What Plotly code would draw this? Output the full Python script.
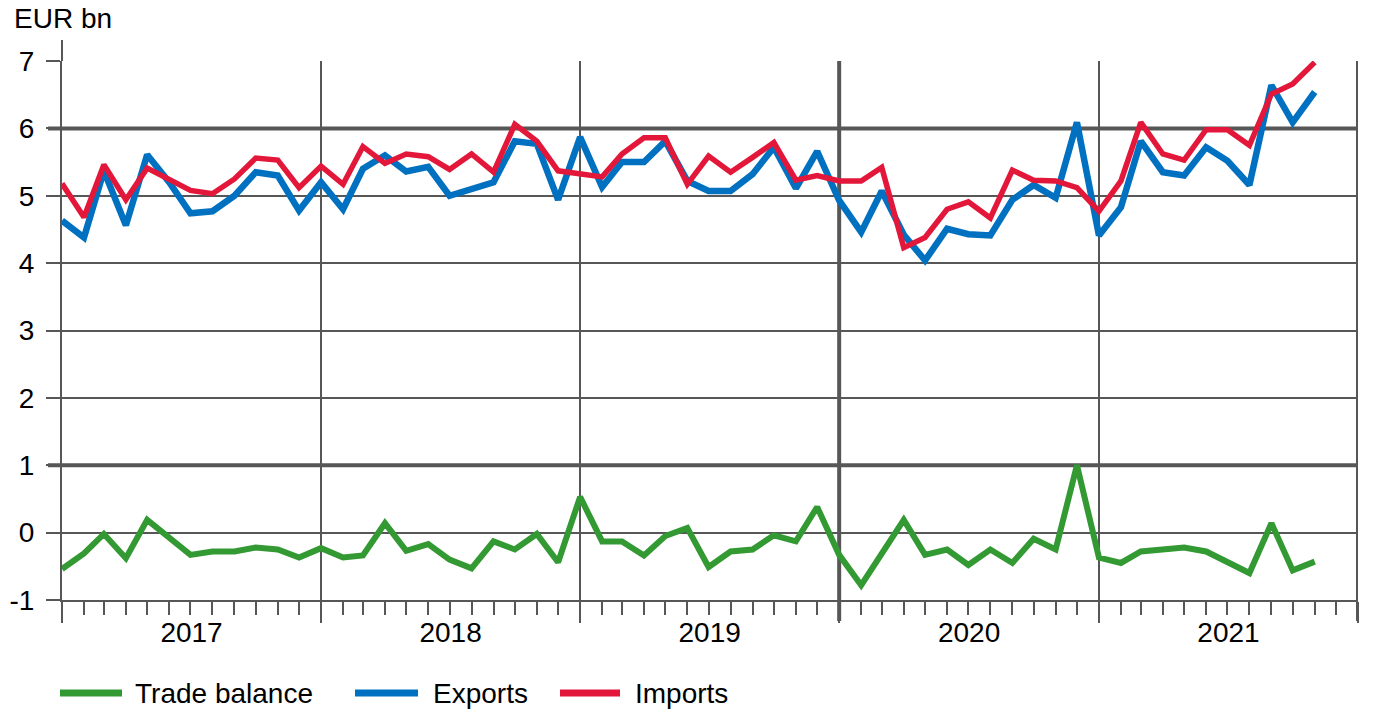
import pandas as pd
import plotly.graph_objects as go

months = pd.date_range("2017-01-01", periods=59, freq="MS")

exports = [4.63, 4.38, 5.37, 4.56, 5.61, 5.20, 4.74, 4.77, 5.00, 5.35, 5.30, 4.78,
           5.20, 4.80, 5.40, 5.60, 5.36, 5.43, 5.00, 5.11, 5.20, 5.81, 5.77, 4.94,
           5.87, 5.13, 5.50, 5.50, 5.81, 5.22, 5.07, 5.07, 5.32, 5.72, 5.11, 5.66,
           4.93, 4.46, 5.07, 4.42, 4.04, 4.51, 4.43, 4.41, 4.94, 5.16, 4.97, 6.09,
           4.41, 4.83, 5.81, 5.35, 5.30, 5.72, 5.52, 5.16, 6.64, 6.09, 6.54]

imports = [5.18, 4.68, 5.46, 4.94, 5.41, 5.25, 5.08, 5.03, 5.25, 5.56, 5.53, 5.12,
           5.44, 5.17, 5.73, 5.48, 5.62, 5.58, 5.39, 5.62, 5.35, 6.06, 5.81, 5.37,
           5.32, 5.28, 5.62, 5.86, 5.86, 5.17, 5.59, 5.35, 5.57, 5.79, 5.23, 5.30,
           5.22, 5.22, 5.42, 4.23, 4.38, 4.80, 4.91, 4.67, 5.38, 5.23, 5.22, 5.12,
           4.77, 5.22, 6.09, 5.62, 5.53, 5.98, 5.98, 5.75, 6.51, 6.66, 6.98]

balance = [-0.54, -0.31, -0.02, -0.38, 0.19, -0.08, -0.33, -0.28, -0.28, -0.22, -0.25, -0.37,
           -0.23, -0.37, -0.34, 0.14, -0.27, -0.17, -0.40, -0.53, -0.13, -0.25, -0.02, -0.44,
           0.53, -0.13, -0.13, -0.34, -0.05, 0.07, -0.51, -0.28, -0.25, -0.04, -0.13, 0.38,
           -0.33, -0.78, -0.30, 0.19, -0.33, -0.25, -0.48, -0.25, -0.45, -0.09, -0.25, 1.00,
           -0.37, -0.45, -0.28, -0.25, -0.22, -0.28, -0.44, -0.60, 0.14, -0.56, -0.43]

y_tick_vals = [-1, 0, 1, 2, 3, 4, 5, 6, 7]
y_tick_text = ["-1", "0", "1", "2", "3", "4", "5", "6", "7"]

series_names = ["Trade balance", "Exports", "Imports"]
colors = ["#339933", "#0070C0", "#E2173A"]
widths = [6, 6.5, 5.5]

FONT = "Liberation Sans, Arial, sans-serif"
GRID = "#575757"

fig = go.Figure()
for name, vals, c, w in zip(series_names, [balance, exports, imports], colors, widths):
    fig.add_trace(go.Scatter(x=months, y=vals, mode="lines", name=name,
                             line=dict(color=c, width=w), showlegend=False, hoverinfo="skip"))

fig.update_layout(
    width=1378, height=711,
    margin=dict(l=62, r=20, t=61, b=111, autoexpand=False),
    paper_bgcolor="white", plot_bgcolor="white",
    font=dict(family=FONT, size=28, color="black"),
)

fig.update_xaxes(
    range=["2017-01-01", "2022-01-01"], automargin=False,
    tick0="2017-01-01", dtick="M12", tickformat="%Y", ticklabelmode="period",
    showgrid=True, gridcolor=GRID, gridwidth=2,
    ticks="outside", ticklen=21, tickwidth=2, tickcolor=GRID,
    showline=True, linecolor=GRID, linewidth=2,
    minor=dict(dtick="M1", tick0="2017-01-01", ticks="outside", ticklen=13,
               tickwidth=2, tickcolor=GRID, showgrid=False),
    tickfont=dict(size=28), ticklabelstandoff=-15,
    zeroline=False,
)
fig.update_yaxes(
    range=[-1, 7], tickmode="array", tickvals=y_tick_vals, ticktext=y_tick_text,
    automargin=False,
    showgrid=True, gridcolor=GRID, gridwidth=2,
    ticks="outside", ticklen=14, tickwidth=2, tickcolor=GRID,
    showline=True, linecolor=GRID, linewidth=2,
    zeroline=False, tickfont=dict(size=28), ticklabelstandoff=6,
)

shapes = []
for yv in [6, 1]:
    shapes.append(dict(type="line", xref="paper", yref="y", x0=-14/1296, x1=1, y0=yv, y1=yv,
                       line=dict(color=GRID, width=4), layer="below"))
for xv in ["2020-01-01", "2022-01-01"]:
    shapes.append(dict(type="line", xref="x", yref="paper", x0=xv, x1=xv, y0=-21/539, y1=1,
                       line=dict(color=GRID, width=4), layer="below"))
shapes.append(dict(type="line", xref="paper", yref="paper", x0=0, x1=0, y0=1, y1=1 + 21/539,
                   line=dict(color=GRID, width=2)))

leg_y = (600 - 693) / 539
leg_lines = [(60, 122), (355, 418), (560, 620)]
leg_text_x = [133, 431, 633]
annotations = [dict(text="EUR bn", xref="paper", yref="paper", x=(12 - 62) / 1296, y=(600 - 19) / 539,
                    xanchor="left", yanchor="middle", showarrow=False, font=dict(size=28))]
for (a, b), tx, name, c in zip(leg_lines, leg_text_x, series_names, colors):
    shapes.append(dict(type="line", xref="paper", yref="paper", x0=(a - 62) / 1296, x1=(b - 62) / 1296,
                       y0=leg_y, y1=leg_y, line=dict(color=c, width=7)))
    annotations.append(dict(text=name, xref="paper", yref="paper", x=(tx - 62) / 1296, y=leg_y,
                            xanchor="left", yanchor="middle", showarrow=False, font=dict(size=28)))

fig.update_layout(shapes=shapes, annotations=annotations)
fig.write_html("out.html", config={"displayModeBar": False, "staticPlot": True},
               post_script="document.body.style.margin='0px';")
